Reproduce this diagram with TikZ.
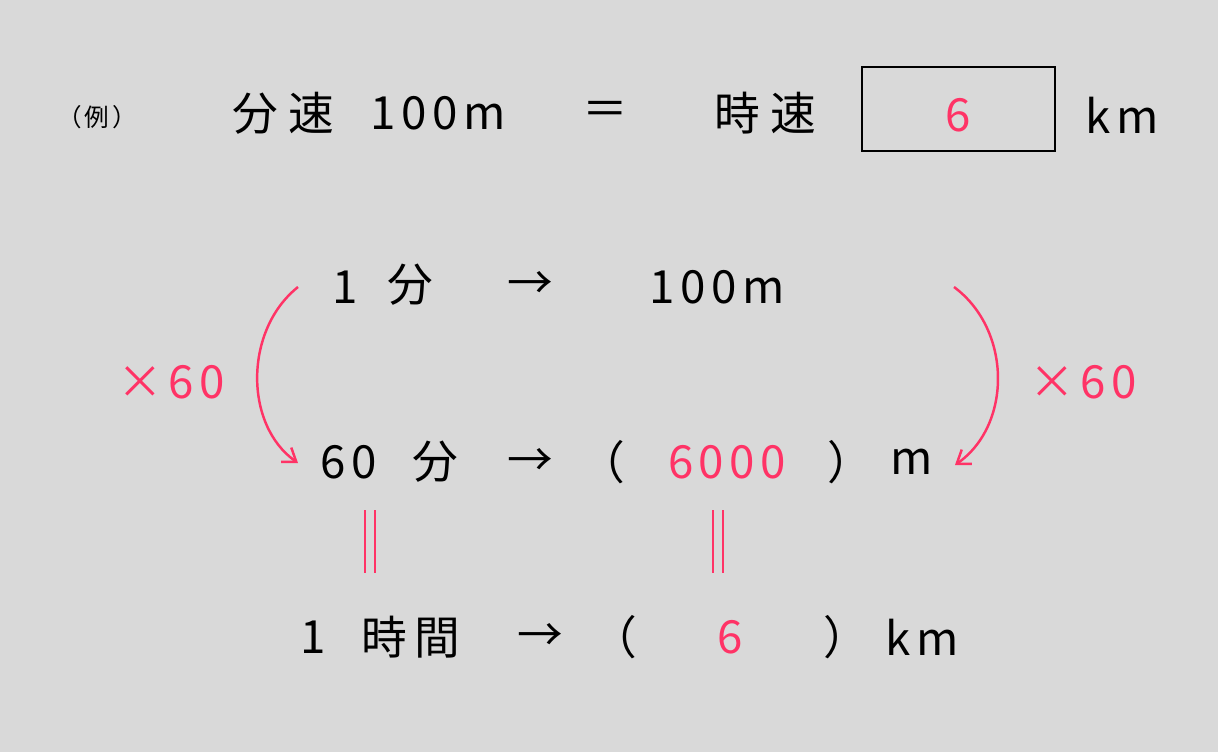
\documentclass[tikz,border=0pt]{standalone}
\usepackage{fontspec}
\setmainfont{Noto Sans CJK JP}[LetterSpace=12]
\usetikzlibrary{arrows.meta}
\definecolor{bgc}{RGB}{217,217,217}
\definecolor{pinkc}{RGB}{255,51,102}
\tikzset{
    txt/.style={font=\fontsize{26}{30}\selectfont, inner sep=0pt},
    ans/.style={txt, text=pinkc},
    bar/.style={pinkc, line width=1.4pt},
    times/.style={pinkc, line width=1.4pt, -{Straight Barb[length=7pt, width=10pt]}}
}
\begin{document}
\begin{tikzpicture}[x=0.02cm, y=-0.02cm]
    \fill[bgc] (0,0) rectangle (1218,752);
    \node[txt, font=\fontsize{14}{16}\selectfont] (rei) at (97,117) {（例）};
    \node[txt] (bunsoku) at (283,113) {分\hspace{6pt}速};
    \node[txt] (m100) at (438,113) {100m};
    \node[txt] (eq) at (605,113) {＝};
    \node[txt] (jisoku) at (765,113) {時\hspace{6pt}速};
    \node[draw, line width=1.2pt, inner sep=0pt,
          minimum width=3.86cm, minimum height=1.68cm] (box) at (958.5,109) {};
    \node[ans] (ansbox) at (958,115) {6};
    \node[txt] (kmtop) at (1122,115) {km};

    \node[txt] (one) at (345,287) {1};
    \node[txt] (fun1) at (410,285) {分};
    \node[txt] (arr1) at (530,285) {→};
    \node[txt] (m100b) at (717,287) {100m};

    \node[txt] (sixty) at (349,462) {60};
    \node[txt] (fun2) at (435,462) {分};
    \node[txt] (arr2) at (530,462) {→};
    \node[txt] (lp2) at (602,462) {（};
    \node[ans] (v6000) at (727,462) {6000};
    \node[txt] (rp2) at (850,462) {）};
    \node[txt] (m) at (912,462) {m};

    \node[txt] (one2) at (313,637) {1};
    \node[txt] (jikan) at (411,637) {時\hspace{4pt}間};
    \node[txt] (arr3) at (540,637) {→};
    \node[txt] (lp3) at (614,637) {（};
    \node[ans] (v6) at (730,637) {6};
    \node[txt] (rp3) at (846,637) {）};
    \node[txt] (km) at (922,637) {km};

    \node[ans] (lt) at (171,382) {×60};
    \node[ans] (rt) at (1083,382) {×60};

    \coordinate (la1) at (298,287);
    \coordinate (la2) at (298,463);
    \coordinate (ra1) at (954,287);
    \coordinate (ra2) at (955,465);
    \draw[times] (la1) .. controls (244,330) and (244,425) .. (la2);
    \draw[times] (ra1) .. controls (1012,330) and (1012,425) .. (ra2);

    \coordinate (b1t) at (370,510);
    \coordinate (b1b) at (370,573);
    \coordinate (b2t) at (718,510);
    \coordinate (b2b) at (718,573);
    \draw[bar] ([xshift=-2.8pt]b1t) -- ([xshift=-2.8pt]b1b);
    \draw[bar] ([xshift=2.8pt]b1t) -- ([xshift=2.8pt]b1b);
    \draw[bar] ([xshift=-2.8pt]b2t) -- ([xshift=-2.8pt]b2b);
    \draw[bar] ([xshift=2.8pt]b2t) -- ([xshift=2.8pt]b2b);
\end{tikzpicture}
\end{document}
